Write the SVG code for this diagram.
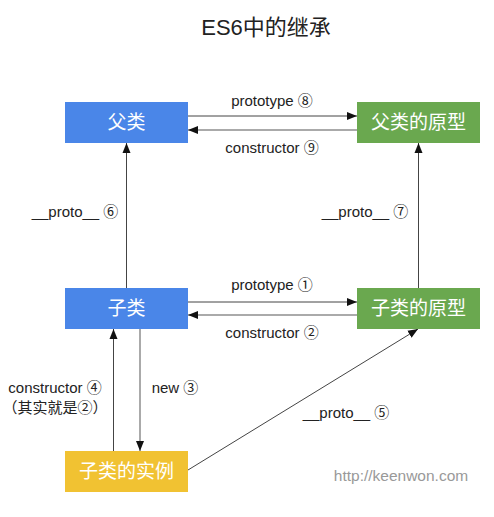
<svg xmlns="http://www.w3.org/2000/svg" width="494" height="517" viewBox="0 0 494 517">
<defs>
<style>
.lbl{font-family:"Liberation Sans","Noto Sans CJK SC",sans-serif;font-size:15px;fill:#222;text-anchor:middle}
.node{font-family:"Liberation Sans","Noto Sans CJK SC",sans-serif;font-size:19px;fill:#fff;text-anchor:middle}
.thin{stroke:#444;stroke-width:1;fill:none}
.thick{stroke:#aaa;stroke-width:2;fill:none}
</style>
<marker id="ah" viewBox="0 0 10 10" refX="10" refY="5" markerWidth="10" markerHeight="10" markerUnits="userSpaceOnUse" orient="auto"><path d="M0,1 L10,5 L0,9 Z" fill="#111"/></marker>
</defs>
<rect width="494" height="517" fill="#fff"/>
<text x="266" y="35" font-family="Liberation Sans,Noto Sans CJK SC,sans-serif" font-size="22" fill="#222" text-anchor="middle">ES6中的继承</text>
<g id="connectors">
<line class="thin" x1="188" y1="116" x2="357" y2="116" marker-end="url(#ah)"/>
<line class="thick" x1="357" y1="130" x2="188" y2="130" marker-end="url(#ah)"/>
<line class="thin" x1="126.5" y1="288" x2="126.5" y2="143" marker-end="url(#ah)"/>
<line class="thin" x1="418.5" y1="288" x2="418.5" y2="143" marker-end="url(#ah)"/>
<line class="thin" x1="188" y1="302" x2="357" y2="302" marker-end="url(#ah)"/>
<line class="thick" x1="357" y1="315" x2="188" y2="315" marker-end="url(#ah)"/>
<line class="thin" x1="113.5" y1="451" x2="113.5" y2="329" marker-end="url(#ah)"/>
<line class="thick" x1="140" y1="329" x2="140" y2="451" marker-end="url(#ah)"/>
<line class="thin" x1="188" y1="470" x2="418" y2="329" marker-end="url(#ah)"/>
<text class="lbl" x="272" y="106">prototype ⑧</text>
<text class="lbl" x="272" y="153">constructor ⑨</text>
<text class="lbl" x="75" y="217">__proto__ ⑥</text>
<text class="lbl" x="365" y="217">__proto__ ⑦</text>
<text class="lbl" x="272" y="290">prototype ①</text>
<text class="lbl" x="272" y="338">constructor ②</text>
<text class="lbl" x="55" y="393">constructor ④</text>
<text class="lbl" x="55" y="413">（其实就是②）</text>
<text class="lbl" x="175" y="393">new ③</text>
<text class="lbl" x="346" y="418">__proto__ ⑤</text>
</g>
<g id="fu"><rect x="65" y="102" width="123" height="41" fill="#4a86e8"/><text class="node" x="126.5" y="129">父类</text></g>
<g id="fuproto"><rect x="357" y="102" width="123" height="41" fill="#6aa84f"/><text class="node" x="418.5" y="129">父类的原型</text></g>
<g id="zi"><rect x="65" y="288" width="123" height="41" fill="#4a86e8"/><text class="node" x="126.5" y="315">子类</text></g>
<g id="ziproto"><rect x="357" y="288" width="123" height="41" fill="#6aa84f"/><text class="node" x="418.5" y="315">子类的原型</text></g>
<g id="instance"><rect x="65" y="451" width="123" height="41" fill="#f1c232"/><text class="node" x="126.5" y="478">子类的实例</text></g>
<text x="401" y="481" font-family="Liberation Sans,sans-serif" font-size="15.5" fill="#999" text-anchor="middle">http://keenwon.com</text>
</svg>
